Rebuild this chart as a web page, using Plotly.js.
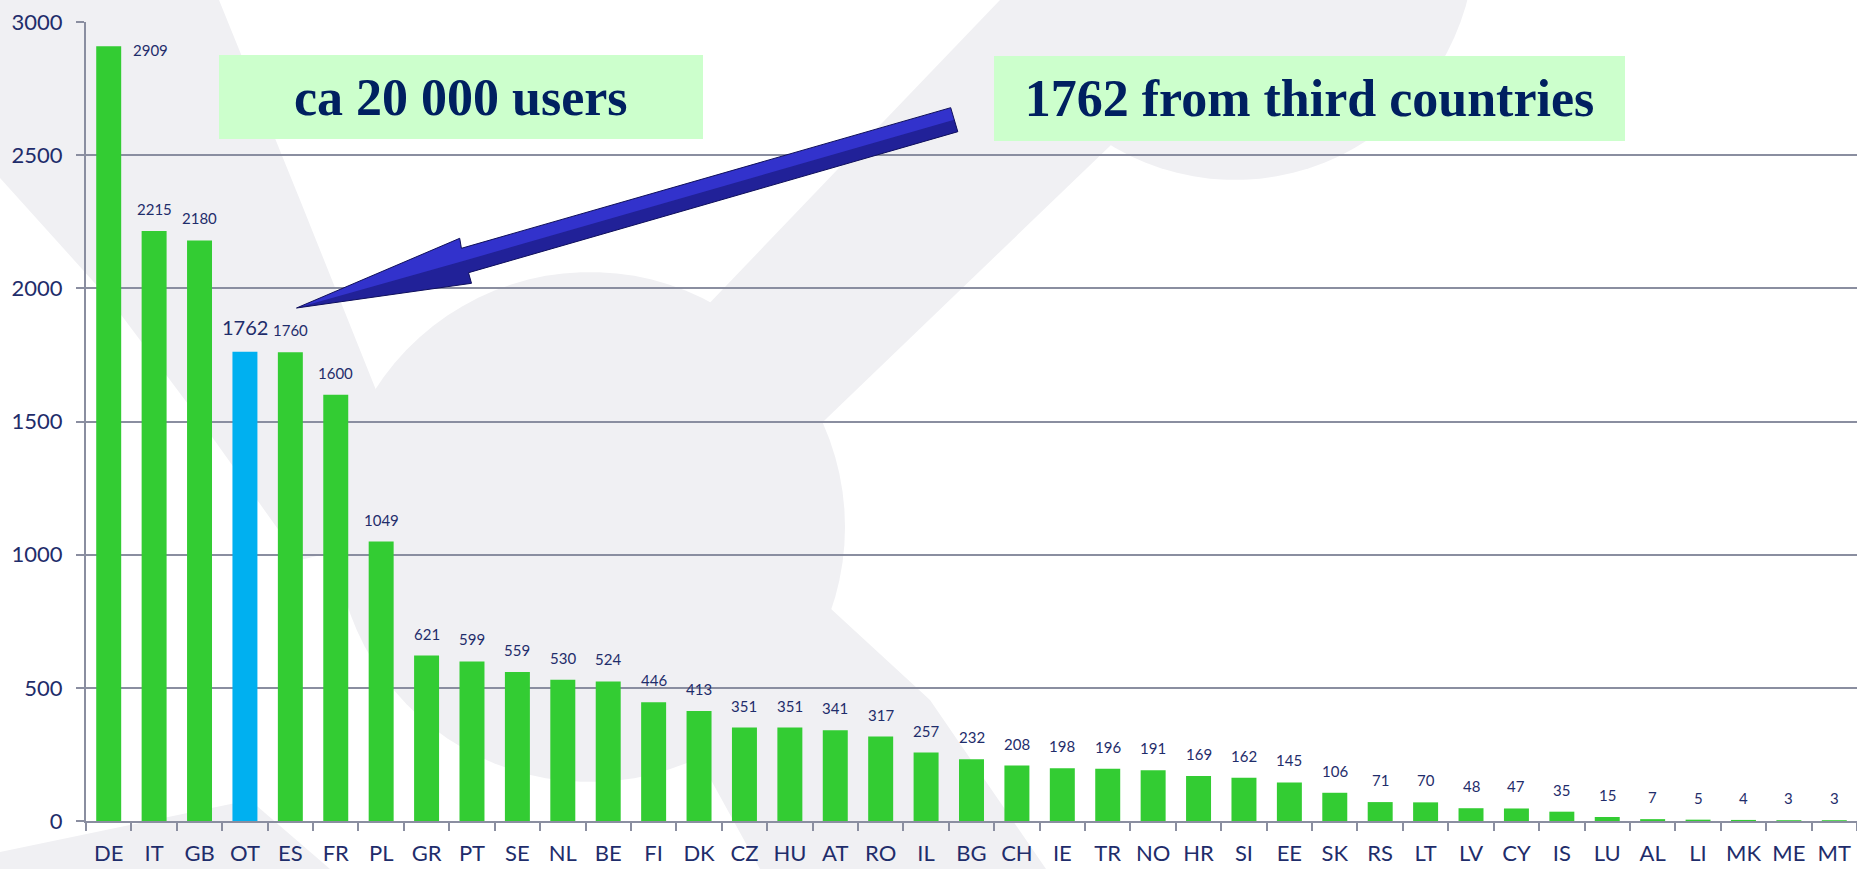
<!DOCTYPE html>
<html>
<head>
<meta charset="utf-8">
<script src="https://cdn.plot.ly/plotly-3.0.1.min.js"></script>
<style>
  html, body { margin: 0; padding: 0; background: #ffffff; }
  #chart { width: 1857px; height: 869px; }
</style>
</head>
<body>
<div id="chart"></div>
<script>
// ---- data ----
const countries = ["DE","IT","GB","OT","ES","FR","PL","GR","PT","SE","NL","BE","FI","DK","CZ","HU","AT","RO","IL","BG","CH","IE","TR","NO","HR","SI","EE","SK","RS","LT","LV","CY","IS","LU","AL","LI","MK","ME","MT"];
const users = [2909,2215,2180,1762,1760,1600,1049,621,599,559,530,524,446,413,351,351,341,317,257,232,208,198,196,191,169,162,145,106,71,70,48,47,35,15,7,5,4,3,3];
const highlighted = "OT";
const yTicks = [0,500,1000,1500,2000,2500,3000];
const boxTexts = ["ca 20 000 users", "1762 from third countries"];

// ---- geometry helpers (plot area in pixels) ----
const W = 1857, H = 869;
const M = { l: 86, r: 0, t: 22, b: 48 };
const PW = W - M.l - M.r, PH = H - M.t - M.b;
const px = x => (x - M.l) / PW;
const py = y => (H - M.b - y) / PH;
const path = pts => pts.map((p, i) => (i ? "L" : "M") + px(p[0]).toFixed(5) + "," + py(p[1]).toFixed(5)).join(" ") + " Z";
function circlePath(cx, cy, r) {
  const pts = [];
  for (let i = 0; i < 90; i++) {
    const a = i / 90 * 2 * Math.PI;
    pts.push([cx + r * Math.cos(a), cy + r * Math.sin(a)]);
  }
  return path(pts);
}

const green = "#33cc33", blue = "#00b0f0", navy = "#1f2d6b";
const colors = countries.map(c => c === highlighted ? blue : green);

const trace = {
  type: "bar",
  x: countries,
  y: users,
  marker: { color: colors, line: { width: 0 } },
  hoverinfo: "x+y"
};

// value labels
const annotations = countries.map((c, i) => {
  const isHi = c === highlighted;
  const isTop = i === 0;
  return {
    x: c, y: users[i], xref: "x", yref: "y",
    text: String(users[i]), showarrow: false,
    font: { family: "Lato, 'Open Sans', sans-serif", size: isHi ? 20 : 15, color: navy },
    xanchor: isTop ? "left" : "center",
    yanchor: "middle",
    xshift: isTop ? 22 : 0,
    yshift: isTop ? -4 : (isHi ? 25 : 22)
  };
});

// green text boxes
const boxes = [
  { x0: 219.5, x1: 703, y0: 55, y1: 139.3, text: boxTexts[0] },
  { x0: 994, x1: 1625, y0: 56, y1: 140.5, text: boxTexts[1] }
];
boxes.forEach(b => {
  annotations.push({
    xref: "paper", yref: "paper",
    x: px((b.x0 + b.x1) / 2), y: py((b.y0 + b.y1) / 2),
    xanchor: "center", yanchor: "middle",
    width: b.x1 - b.x0, height: b.y1 - b.y0,
    bgcolor: "#ccffcc", borderpad: 0, borderwidth: 0,
    showarrow: false,
    text: "<b>" + b.text + "</b>",
    font: { family: "'Liberation Serif', 'Times New Roman', serif", size: 52, color: "#002060" }
  });
});

// watermark (light grey logo) + arrow shapes
const wm = "#f0f0f3";
const wmShape = p => ({ type: "path", xref: "paper", yref: "paper", layer: "below",
  fillcolor: wm, line: { width: 0 }, path: p });
const shapes = [
  // top-left band running down into the big circle
  wmShape(path([[0,0],[219,0],[300,200],[380,400],[470,520],[300,560],[200,420],[110,300],[0,178]])),
  // big circle
  wmShape(circlePath(590, 527, 255)),
  // head circle at top
  wmShape(circlePath(1235, -60, 240)),
  // band from head down-left to the circle
  wmShape(path([[1000,0],[1262,0],[700,540],[540,480]])),
  // band from circle down-right to the bottom
  wmShape(path([[760,520],[830,608],[930,700],[1046,869],[760,869],[700,760]])),
  // bottom-left corner piece
  wmShape(path([[0,852],[250,800],[330,869],[0,869]]))
];

// block arrow
const T = [296.5, 308], P1 = [459.7, 238.3], J1 = [461.4, 248.3], A = [950.7, 107.7],
      B = [957.8, 131.7], J2 = [468.5, 272.7], P2 = [471.5, 283.3];
const mid = (p, q) => [(p[0] + q[0]) / 2, (p[1] + q[1]) / 2];
shapes.push({ type: "path", xref: "paper", yref: "paper", fillcolor: "#3232cc",
  line: { color: "#10105a", width: 1 }, path: path([T, P1, J1, A, B, J2, P2]) });
shapes.push({ type: "path", xref: "paper", yref: "paper", fillcolor: "rgba(16,16,100,0.5)",
  line: { width: 0 }, path: path([T, mid(J1, J2), mid(A, B), B, J2, P2]) });

const layout = {
  width: W, height: H,
  margin: M,
  paper_bgcolor: "#ffffff",
  plot_bgcolor: "rgba(0,0,0,0)",
  showlegend: false,
  bargap: 0.45,
  font: { family: "Lato, 'Open Sans', sans-serif", color: navy },
  xaxis: {
    type: "category",
    tickmode: "array", tickvals: countries, ticktext: countries,
    tickson: "boundaries",
    tickangle: 0,
    ticks: "outside", ticklen: 8, tickcolor: "#8a8ea0", tickwidth: 2,
    showline: true, linecolor: "#8a8ea0", linewidth: 2,
    showgrid: false,
    tickfont: { size: 22, color: navy },
    ticklabelstandoff: 12,
    range: [-0.5, countries.length - 0.5],
    fixedrange: true
  },
  yaxis: {
    range: [0, 3000],
    tickmode: "array", tickvals: yTicks, ticktext: yTicks.map(String),
    ticks: "outside", ticklen: 8, tickcolor: "#8a8ea0", tickwidth: 2,
    showline: true, linecolor: "#8a8ea0", linewidth: 2,
    showgrid: true, gridcolor: "#8a8ea0", gridwidth: 2,
    zeroline: false,
    tickfont: { size: 22, color: navy },
    ticklabelstandoff: 9,
    fixedrange: true
  },
  annotations: annotations,
  shapes: shapes
};

Plotly.newPlot("chart", [trace], layout, { displayModeBar: false, staticPlot: true });
</script>
</body>
</html>
